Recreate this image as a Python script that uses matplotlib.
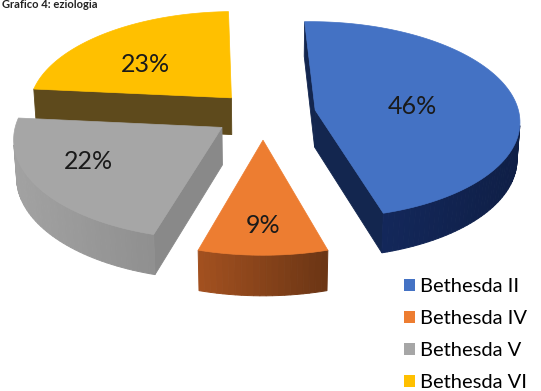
import numpy as np
import matplotlib
matplotlib.use('Agg')
import matplotlib.pyplot as plt
from matplotlib.patches import Polygon, Patch
from matplotlib.colors import to_rgb

# ---- data ----
categories = ['Bethesda II', 'Bethesda IV', 'Bethesda V', 'Bethesda VI']
values = [46, 9, 22, 23]
title_text = 'Grafico 4: eziologia'

# ---- style ----
top_colors = ['#4472C4', '#ED7D31', '#A6A6A6', '#FFC000']
wall_colors = ['#112350', '#87431a', '#999999', '#5e4a1c']
cut_colors = ['#13264f', '#7a3c14', '#898989', '#5e4a1c']
wall_grad = [0.25, 0.40, 0.12, 0.0]
explode = [0.26, 0.26, 0.24, 0.23]
label_r = [0.48, 0.76, 0.70, 0.58]
label_dtheta = [-5, 0, -6, 8]
start_angle = 91.8

W, H = 541, 391
plt.rcParams['font.family'] = ['Lato', 'DejaVu Sans']
fig = plt.figure(figsize=(W / 100, H / 100), dpi=100)
ax = fig.add_axes([0, 0, 1, 1])
ax.set_xlim(0, W)
ax.set_ylim(H, 0)
ax.axis('off')

# ---- perspective projection ----
tilt = np.radians(28.7)
s, c = np.sin(tilt), np.cos(tilt)
q = 0.1
D = c / q
K = 204 * D
CX, CY = 263, 114
thick = 0.21
cam = np.array([0.0, -D * c, D * s])


def proj(x, y, z):
    w = D + y * c - z * s
    return CX + K * x / w, CY - K * (y * s + z * c) / w


def shade(col, f):
    r, g, b = to_rgb(col)
    return (min(1, r * f), min(1, g * f), min(1, b * f))


def visible(n, p):
    return np.dot(n, cam - p) > 0


total = float(sum(values))
cum = np.cumsum([0] + values)
slices = []
for i, v in enumerate(values):
    t1 = np.radians(start_angle - cum[i] / total * 360)      # start (larger angle)
    t0 = np.radians(start_angle - cum[i + 1] / total * 360)  # end (smaller angle)
    tm = 0.5 * (t0 + t1)
    off = explode[i] * np.array([np.cos(tm), np.sin(tm), 0.0])
    slices.append((i, t0, t1, tm, off))

# draw far slices first
slices.sort(key=lambda t: -(t[4][1] + 0.6 * np.sin(t[3])))

for i, t0, t1, tm, off in slices:
    n = max(8, int(np.degrees(t1 - t0) / 1.5))
    ts = np.linspace(t0, t1, n + 1)
    ox, oy = off[0], off[1]
    # cut faces
    for t, nrm in ((t0, np.array([np.sin(t0), -np.cos(t0), 0.0])),
                   (t1, np.array([-np.sin(t1), np.cos(t1), 0.0]))):
        p = np.array([ox, oy, 0.0])
        if visible(nrm, p):
            ex, ey = ox + np.cos(t), oy + np.sin(t)
            pts = [proj(ox, oy, 0), proj(ex, ey, 0),
                   proj(ex, ey, -thick), proj(ox, oy, -thick)]
            ax.add_patch(Polygon(pts, closed=True, facecolor=cut_colors[i],
                                 edgecolor=cut_colors[i], lw=0.6))
    # outer wall segments
    segs = []
    for j in range(n):
        ta = ts[j]
        tb = ts[j + 1]
        tmid = 0.5 * (ta + tb)
        nrm = np.array([np.cos(tmid), np.sin(tmid), 0.0])
        p = np.array([ox + np.cos(tmid), oy + np.sin(tmid), 0.0])
        if visible(nrm, p):
            segs.append((ta, tb))
    if segs:
        xs = [proj(ox + np.cos(a), oy + np.sin(a), 0)[0] for a, b in segs]
        xmin, xmax = min(xs), max(xs) + 1e-9
        for a, b in segs:
            pts = [proj(ox + np.cos(a), oy + np.sin(a), 0),
                   proj(ox + np.cos(b), oy + np.sin(b), 0),
                   proj(ox + np.cos(b), oy + np.sin(b), -thick),
                   proj(ox + np.cos(a), oy + np.sin(a), -thick)]
            u = (pts[0][0] - xmin) / (xmax - xmin) if xmax > xmin else 0.5
            col = shade(wall_colors[i], 1 + wall_grad[i] * (0.5 - u))
            ax.add_patch(Polygon(pts, closed=True, facecolor=col,
                                 edgecolor=col, lw=0.7))
    # top face
    pts = [proj(ox, oy, 0)] + [proj(ox + np.cos(t), oy + np.sin(t), 0) for t in ts[::-1]]
    ax.add_patch(Polygon(pts, closed=True, facecolor=top_colors[i],
                         edgecolor=top_colors[i], lw=0.5))
    # label
    la = tm + np.radians(label_dtheta[i])
    lx, ly = proj(ox + label_r[i] * np.cos(la), oy + label_r[i] * np.sin(la), 0)
    ax.text(lx, ly, f'{values[i]}%', ha='center', va='center',
            fontsize=18, color='#1a1a1a')

# legend
handles = [Patch(facecolor=col, edgecolor='none') for col in top_colors]
ax.legend(handles, categories, loc='upper left',
          bbox_to_anchor=(404 / W, 1 - 278 / H), frameon=False, fontsize=14.5,
          handlelength=0.55, handleheight=0.55, handletextpad=0.25,
          labelspacing=0.75, borderpad=0, borderaxespad=0)

# title (cropped at the top edge in the original)
fig.text(2 / W, 1 - 8 / H, title_text, ha='left', va='baseline',
         fontsize=8, fontweight='bold', color='#222222')

fig.savefig('out.png', dpi=100)
